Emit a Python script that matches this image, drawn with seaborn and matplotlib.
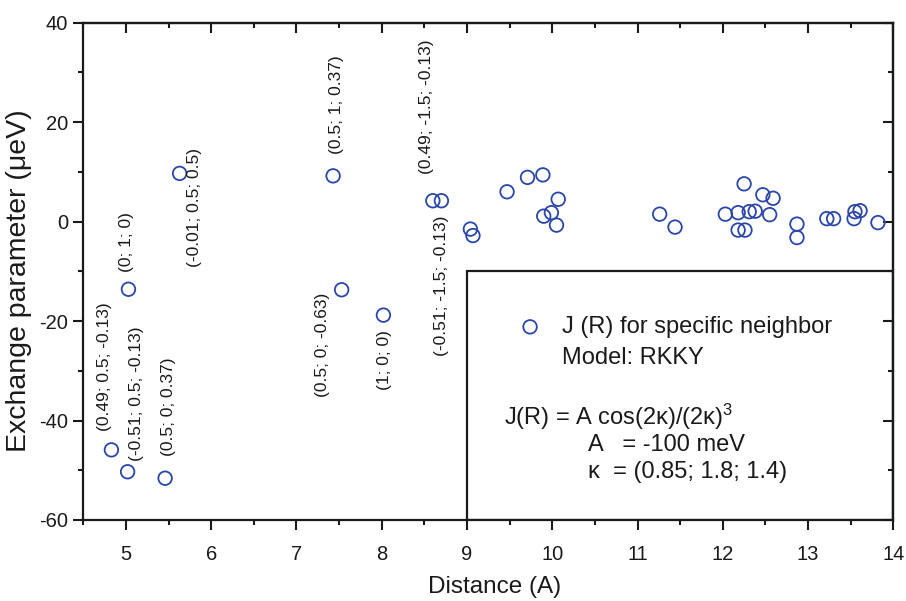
import matplotlib
matplotlib.use("Agg")
import matplotlib.pyplot as plt
import seaborn as sns
import pandas as pd
from matplotlib.patches import Rectangle
from matplotlib.ticker import MultipleLocator

# ---- data ----
distance = [4.83, 5.02, 5.03, 5.46, 5.63, 7.43, 7.53, 8.02, 8.60, 8.70,
            9.04, 9.07, 9.47, 9.71, 9.89, 10.07, 9.90, 9.99, 10.05,
            11.26, 11.44, 12.03, 12.18, 12.25, 12.31, 12.38, 12.47, 12.59,
            12.55, 12.18, 12.26, 12.87, 12.87, 13.22, 13.30, 13.54, 13.55,
            13.61, 13.82]
exchange = [-45.9, -50.3, -13.6, -51.6, 9.7, 9.2, -13.7, -18.8, 4.2, 4.2,
            -1.5, -2.8, 6.0, 8.9, 9.4, 4.5, 1.1, 1.8, -0.7,
            1.5, -1.1, 1.5, 1.8, 7.6, 2.0, 2.1, 5.4, 4.7,
            1.4, -1.7, -1.7, -0.5, -3.2, 0.6, 0.6, 0.6, 2.0,
            2.2, -0.2]

neighbor_labels = ["(0.49; 0.5; -0.13)", "(-0.51; 0.5; -0.13)", "(0.5; 0; 0.37)",
                   "(0; 1; 0)", "(-0.01; 0.5; 0.5)", "(0.5; 1; 0.37)",
                   "(0.5; 0; -0.63)", "(1; 0; 0)", "(0.49; -1.5; -0.13)",
                   "(-0.51; -1.5; -0.13)"]
label_x = [4.744, 5.119, 5.505, 5.009, 5.81, 7.475, 7.311, 8.027, 8.52, 8.707]
label_y = [-29.2, -34.6, -37.3, -4.2, 2.9, 23.5, -24.8, -27.8, 23.1, -13.0]

series_name = "J (R) for specific neighbor"
df = pd.DataFrame({"Distance": distance, "J": exchange})

# ---- style ----
sns.set_style("ticks")
plt.rcParams['font.family'] = ['Liberation Sans', 'DejaVu Sans']
plt.rcParams['mathtext.fontset'] = 'custom'
plt.rcParams['mathtext.rm'] = 'Liberation Sans'
plt.rcParams['mathtext.it'] = 'Liberation Sans:italic'
plt.rcParams['axes.unicode_minus'] = False

ink = "#1a1a1a"
color = "#2a46a8"
fig = plt.figure(figsize=(9.06, 6.01), dpi=100)
ax = fig.add_axes([0.0919, 0.1348, 0.8941, 0.8274])

sns.scatterplot(data=df, x="Distance", y="J", ax=ax, marker="o", s=95,
                facecolors="none", edgecolor=color, linewidth=1.3,
                label=series_name, legend=False)

ax.set_xlim(4.5, 14)
ax.set_ylim(-60, 40)
ax.xaxis.set_major_locator(MultipleLocator(1))
ax.xaxis.set_minor_locator(MultipleLocator(0.5))
ax.yaxis.set_major_locator(MultipleLocator(20))
ax.yaxis.set_minor_locator(MultipleLocator(10))

for sp in ax.spines.values():
    sp.set_linewidth(1.6)
    sp.set_color(ink)
    sp.set_visible(True)

ax.tick_params(which='major', direction='out', length=7, width=1.5,
               labelsize=14.5, colors=ink)
ax.tick_params(which='minor', direction='out', length=3.5, width=1.5, colors=ink)
ax.tick_params(axis='x', which='major', pad=11)
ax.tick_params(axis='y', which='major', pad=4)

sx = ax.secondary_xaxis('top')
sx.xaxis.set_major_locator(MultipleLocator(1))
sx.xaxis.set_minor_locator(MultipleLocator(0.5))
sx.tick_params(which='major', direction='in', length=7, width=1.5, labeltop=False, colors=ink)
sx.tick_params(which='minor', direction='in', length=3.5, width=1.5, colors=ink)
sx.spines['top'].set_linewidth(1.6)
sy = ax.secondary_yaxis('right')
sy.yaxis.set_major_locator(MultipleLocator(20))
sy.yaxis.set_minor_locator(MultipleLocator(10))
sy.tick_params(which='major', direction='in', length=7, width=1.5, labelright=False, colors=ink)
sy.tick_params(which='minor', direction='in', length=3.5, width=1.5, colors=ink)
sy.spines['right'].set_linewidth(1.6)

ax.set_xlabel("Distance (A)", fontsize=17.5, color=ink)
ax.set_ylabel("Exchange parameter (\u03bceV)", fontsize=20.5, color=ink)
ax.xaxis.set_label_coords(0.508, -0.112)
ax.yaxis.set_label_coords(-0.063, 0.481)

for t, x, y in zip(neighbor_labels, label_x, label_y):
    ax.text(x, y, t, rotation=90, ha='center', va='center', fontsize=12.5,
            rotation_mode='anchor', color=ink)

# inset box
ax.add_patch(Rectangle((9, -60), 5, 50, fill=False, lw=1.6, ec=ink, zorder=3))

leg = ax.legend(loc='center left', bbox_to_anchor=(0.537, 0.388), frameon=False,
                fontsize=17, handlelength=1.0, handletextpad=0.86, markerscale=1.0,
                borderpad=0, borderaxespad=0)
for t in leg.get_texts():
    t.set_color(ink)
ax.text(0.591, 0.326, "Model: RKKY", transform=ax.transAxes, fontsize=17,
        va='center', ha='left', color=ink)
ax.text(0.520, 0.207, "J(R) = A cos(2\u03ba)/(2\u03ba)$^3$", transform=ax.transAxes,
        fontsize=17, va='center', ha='left', color=ink)
ax.text(0.623, 0.151, "A   = -100 meV", transform=ax.transAxes, fontsize=17,
        va='center', ha='left', color=ink)
ax.text(0.623, 0.097, "\u03ba  = (0.85; 1.8; 1.4)", transform=ax.transAxes, fontsize=17,
        va='center', ha='left', color=ink)

fig.savefig("out.png", dpi=100)
